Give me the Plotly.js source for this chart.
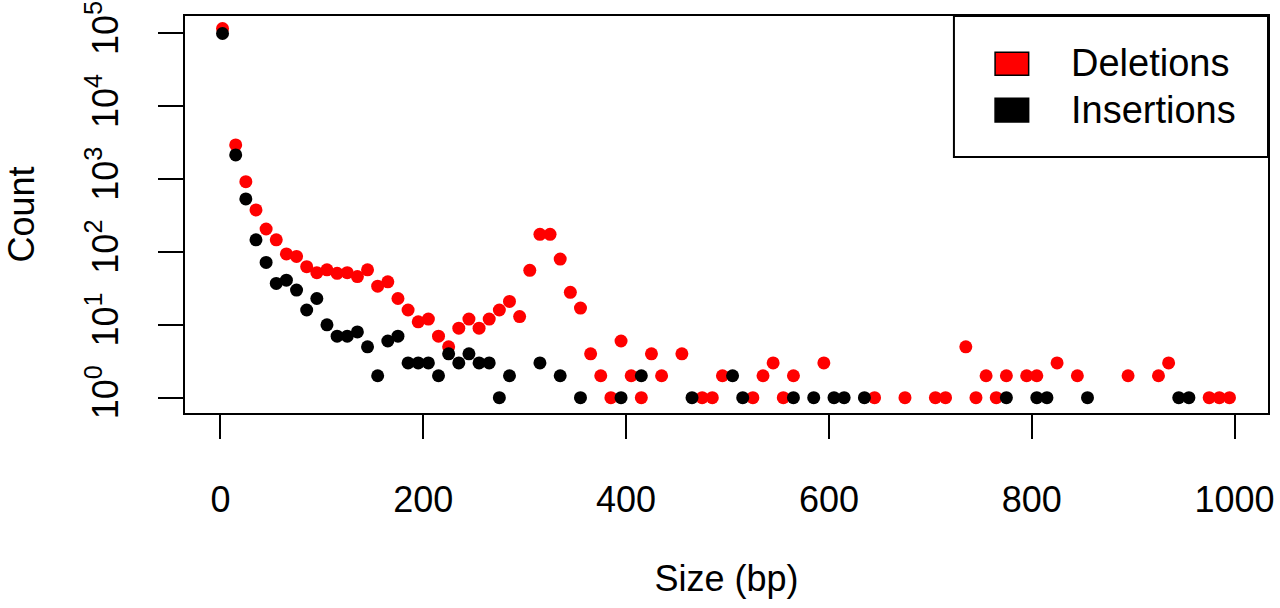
<!DOCTYPE html>
<html>
<head>
<meta charset="utf-8">
<script src="https://cdn.plot.ly/plotly-3.0.1.min.js"></script>
<style>
    html, body { margin: 0; padding: 0; background: #fff; }
    #chart { width: 1280px; height: 608px; }
</style>
</head>
<body>
<div id="chart"></div>
<script>
// ===============================================
// DATA (bins of 10 bp)
// ===============================================
const delSize = [2, 15, 25, 35, 45, 55, 65, 75, 85, 95, 105, 115, 125, 135, 145, 155, 165, 175, 185, 195,
    205, 215, 225, 235, 245, 255, 265, 275, 285, 295, 305, 315, 325, 335, 345, 355, 365, 375, 385, 395,
    405, 415, 425, 435, 455, 475, 485, 495, 525, 535, 545, 555, 565, 595, 645, 675, 705, 715, 735, 745,
    755, 765, 775, 795, 805, 825, 845, 895, 925, 935, 975, 985, 995];
const delCount = [117000, 2950, 925, 378, 207, 147, 94, 87, 63, 52, 57, 51, 52, 46, 57, 34, 39, 23, 16, 11,
    12, 7, 5, 9, 12, 9, 12, 16, 21, 13, 56, 175, 175, 80, 28, 17, 4, 2, 1, 6,
    2, 1, 4, 2, 4, 1, 1, 2, 1, 2, 3, 1, 2, 3, 1, 1, 1, 1, 5, 1,
    2, 1, 2, 2, 2, 3, 2, 2, 2, 3, 1, 1, 1];

const insSize = [2, 15, 25, 35, 45, 55, 65, 75, 85, 95, 105, 115, 125, 135, 145, 155, 165, 175, 185, 195,
    205, 215, 225, 235, 245, 255, 265, 275, 285, 315, 335, 355, 395, 415, 465, 505, 515, 565, 585, 605,
    615, 635, 775, 805, 815, 855, 945, 955];
const insCount = [100000, 2150, 536, 147, 72, 37, 41, 30, 16, 23, 10, 7, 7, 8, 5, 2, 6, 7, 3, 3,
    3, 2, 4, 3, 4, 3, 3, 1, 2, 3, 2, 1, 1, 2, 1, 2, 1, 1, 1, 1,
    1, 1, 1, 1, 1, 1, 1, 1];

const seriesNames = ["Deletions", "Insertions"];
const seriesColors = ["#ff0000", "#000000"];

const xTicks = [0, 200, 400, 600, 800, 1000];
const yTicks = [1, 10, 100, 1000, 10000, 100000];
const yTickText = ["10<sup>0</sup>", "10<sup>1</sup>", "10<sup>2</sup>", "10<sup>3</sup>", "10<sup>4</sup>", "10<sup>5</sup>"];


// ===============================================
// TRACES
// ===============================================
function pointTrace(x, y, i) {
    return {
        x: x,
        y: y,
        name: seriesNames[i],
        type: "scatter",
        mode: "markers",
        marker: { color: seriesColors[i], size: 13, line: { width: 0 } },
        showlegend: false,
        hoverinfo: "x+y+name"
    };
}

const traces = [
    pointTrace(delSize, delCount, 0),
    pointTrace(insSize, insCount, 1)
];


// ===============================================
// LEGEND (R style box with filled swatches)
// ===============================================
const legendShapes = [
    { type: "rect", xref: "paper", yref: "paper", x0: 0.710, x1: 1.0, y0: 0.645, y1: 1.0,
      line: { color: "#000", width: 2 }, fillcolor: "#fff", layer: "above" },
    { type: "rect", xref: "paper", yref: "paper", x0: 0.748, x1: 0.779, y0: 0.851, y1: 0.909,
      line: { color: "#000", width: 1.5 }, fillcolor: seriesColors[0], layer: "above" },
    { type: "rect", xref: "paper", yref: "paper", x0: 0.748, x1: 0.779, y0: 0.733, y1: 0.793,
      line: { color: "#000", width: 1.5 }, fillcolor: seriesColors[1], layer: "above" }
];

const legendLabels = seriesNames.map((name, i) => ({
    xref: "paper", yref: "paper",
    x: 0.816, y: i === 0 ? 0.882 : 0.763,
    xanchor: "left", yanchor: "middle",
    text: name, showarrow: false,
    font: { size: 38, color: "#000" }
}));


// ===============================================
// LAYOUT
// ===============================================
const axisFont = { family: "Liberation Sans, Arial, sans-serif", size: 36, color: "#000" };

const layout = {
    width: 1280,
    height: 608,
    margin: { l: 185, r: 12, t: 16, b: 195 },
    paper_bgcolor: "#fff",
    plot_bgcolor: "#fff",
    font: axisFont,
    xaxis: {
        range: [-35, 1033],
        tickvals: xTicks,
        ticktext: xTicks.map(String),
        ticks: "outside",
        ticklen: 24,
        tickwidth: 2,
        tickcolor: "#000",
        ticklabelstandoff: 30,
        showline: true,
        mirror: true,
        linecolor: "#000",
        linewidth: 2,
        showgrid: false,
        zeroline: false,
        tickfont: axisFont,
        title: { text: "Size (bp)", font: axisFont, standoff: 47 }
    },
    yaxis: {
        type: "log",
        range: [-0.21, 5.24],
        tickvals: yTicks,
        ticktext: yTickText,
        tickangle: -90,
        ticks: "outside",
        ticklen: 25,
        tickwidth: 2,
        tickcolor: "#000",
        ticklabelstandoff: 26,
        showline: true,
        mirror: true,
        linecolor: "#000",
        linewidth: 2,
        showgrid: false,
        zeroline: false,
        tickfont: axisFont,
        title: { text: "Count", font: axisFont, standoff: 34 }
    },
    shapes: legendShapes,
    annotations: legendLabels
};

Plotly.newPlot("chart", traces, layout, { staticPlot: true });
</script>
</body>
</html>
